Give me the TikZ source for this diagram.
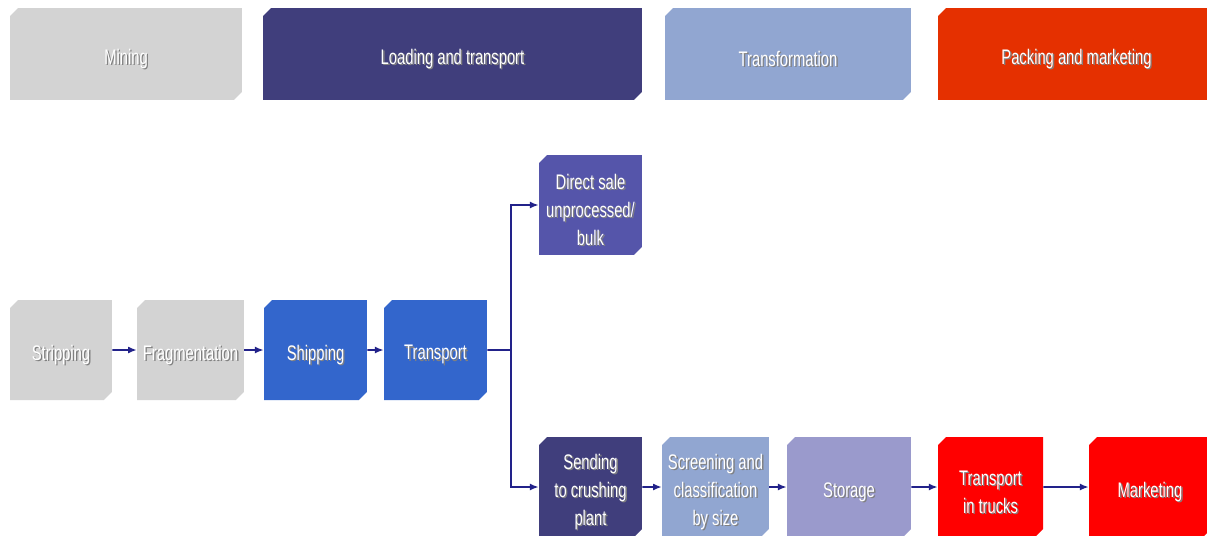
\documentclass[tikz,border=0pt]{standalone}
\usepackage{fontspec}
\setmainfont{Liberation Sans}[FakeStretch=0.7]
\usetikzlibrary{positioning, arrows.meta, shapes.misc}
\definecolor{MinGray}{HTML}{D3D3D3}
\definecolor{LoadNavy}{HTML}{403E7C}
\definecolor{ShipBlue}{HTML}{3366CC}
\definecolor{SaleViolet}{HTML}{5555AA}
\definecolor{TransSky}{HTML}{91A6D1}
\definecolor{StoreLilac}{HTML}{9A9ACC}
\definecolor{PackOrange}{HTML}{E53000}
\definecolor{SellRed}{HTML}{FF0000}
\definecolor{ArrNavy}{HTML}{22228A}
% white label with a soft drop shadow, set a little low in its box
\newcommand\shtxt[1]{\raisebox{-3.2pt}[\height][\depth]{%
  \rlap{\kern0.8pt\raisebox{-0.8pt}{\textcolor{black!50}{#1}}}#1}}

\begin{document}
\begin{tikzpicture}[
  x=0.02cm, y=-0.02cm,
  every node/.style={font=\fontsize{12}{16}\selectfont, text=white},
  stage/.style={chamfered rectangle, chamfered rectangle corners={north west, south east},
    chamfered rectangle xsep=0.08cm, chamfered rectangle ysep=0.08cm,
    inner sep=1pt, minimum height=1.84cm, align=center},
  box/.style={stage, minimum height=2cm, minimum width=2.06cm},
  arr/.style={-{Latex[length=5pt, width=4pt]}, line width=0.9pt, ArrNavy}
]
  \useasboundingbox (0,0) rectangle (1207,535);

  % Stage headers
  \node[stage, fill=MinGray, minimum width=4.64cm] (hmin) at (126,54) {\shtxt{Mining}};
  \node[stage, fill=LoadNavy, minimum width=7.58cm] (hload) at (452.5,54) {\shtxt{Loading and transport}};
  \node[stage, fill=TransSky, minimum width=4.92cm] (htrans) at (788,54) {\shtxt{Transformation}};
  \node[stage, fill=PackOrange, minimum width=5.54cm] (hpack) at (1076.5,54) {\shtxt{Packing and marketing}};

  % Mining and transport chain
  \node[box, fill=MinGray, minimum width=2.04cm] (strip) at (61,350) {\shtxt{Stripping}};
  \node[box, fill=MinGray] (frag) at (190.5,350) {\shtxt{Fragmentation}};
  \node[box, fill=ShipBlue] (ship) at (315.5,350) {\shtxt{Shipping}};
  \node[box, fill=ShipBlue] (trans) at (435.5,350) {\shtxt{Transport}};

  % Branch targets
  \node[box, fill=SaleViolet] (sale) at (590.5,205)
    {\shtxt{Direct sale}\\\shtxt{unprocessed/}\\\shtxt{bulk}};
  \node[box, fill=LoadNavy] (send) at (590.5,487)
    {\shtxt{Sending}\\\shtxt{to crushing}\\\shtxt{plant}};

  % Processing and marketing chain
  \node[box, fill=TransSky] (screen) at (715.5,487)
    {\shtxt{Screening and}\\\shtxt{classification}\\\shtxt{by size}};
  \node[box, fill=StoreLilac, minimum width=2.48cm] (store) at (849,487) {\shtxt{Storage}};
  \node[box, fill=SellRed, minimum width=2.1cm] (truck) at (990.5,487)
    {\shtxt{Transport}\\\shtxt{in trucks}};
  \node[box, fill=SellRed, minimum width=2.44cm] (market) at (1150,487) {\shtxt{Marketing}};

  % Arrows
  \draw[arr] (strip) -- (frag);
  \draw[arr] (frag) -- (ship);
  \draw[arr] (ship) -- (trans);
  \coordinate (fork) at (511,350);
  \draw[ArrNavy, line width=0.9pt] (trans) -- (fork);
  \draw[arr] (fork) |- (sale);
  \draw[arr] (fork) |- (send);
  \draw[arr] (send) -- (screen);
  \draw[arr] (screen) -- (store);
  \draw[arr] (store) -- (truck);
  \draw[arr] (truck) -- (market);
\end{tikzpicture}
\end{document}
